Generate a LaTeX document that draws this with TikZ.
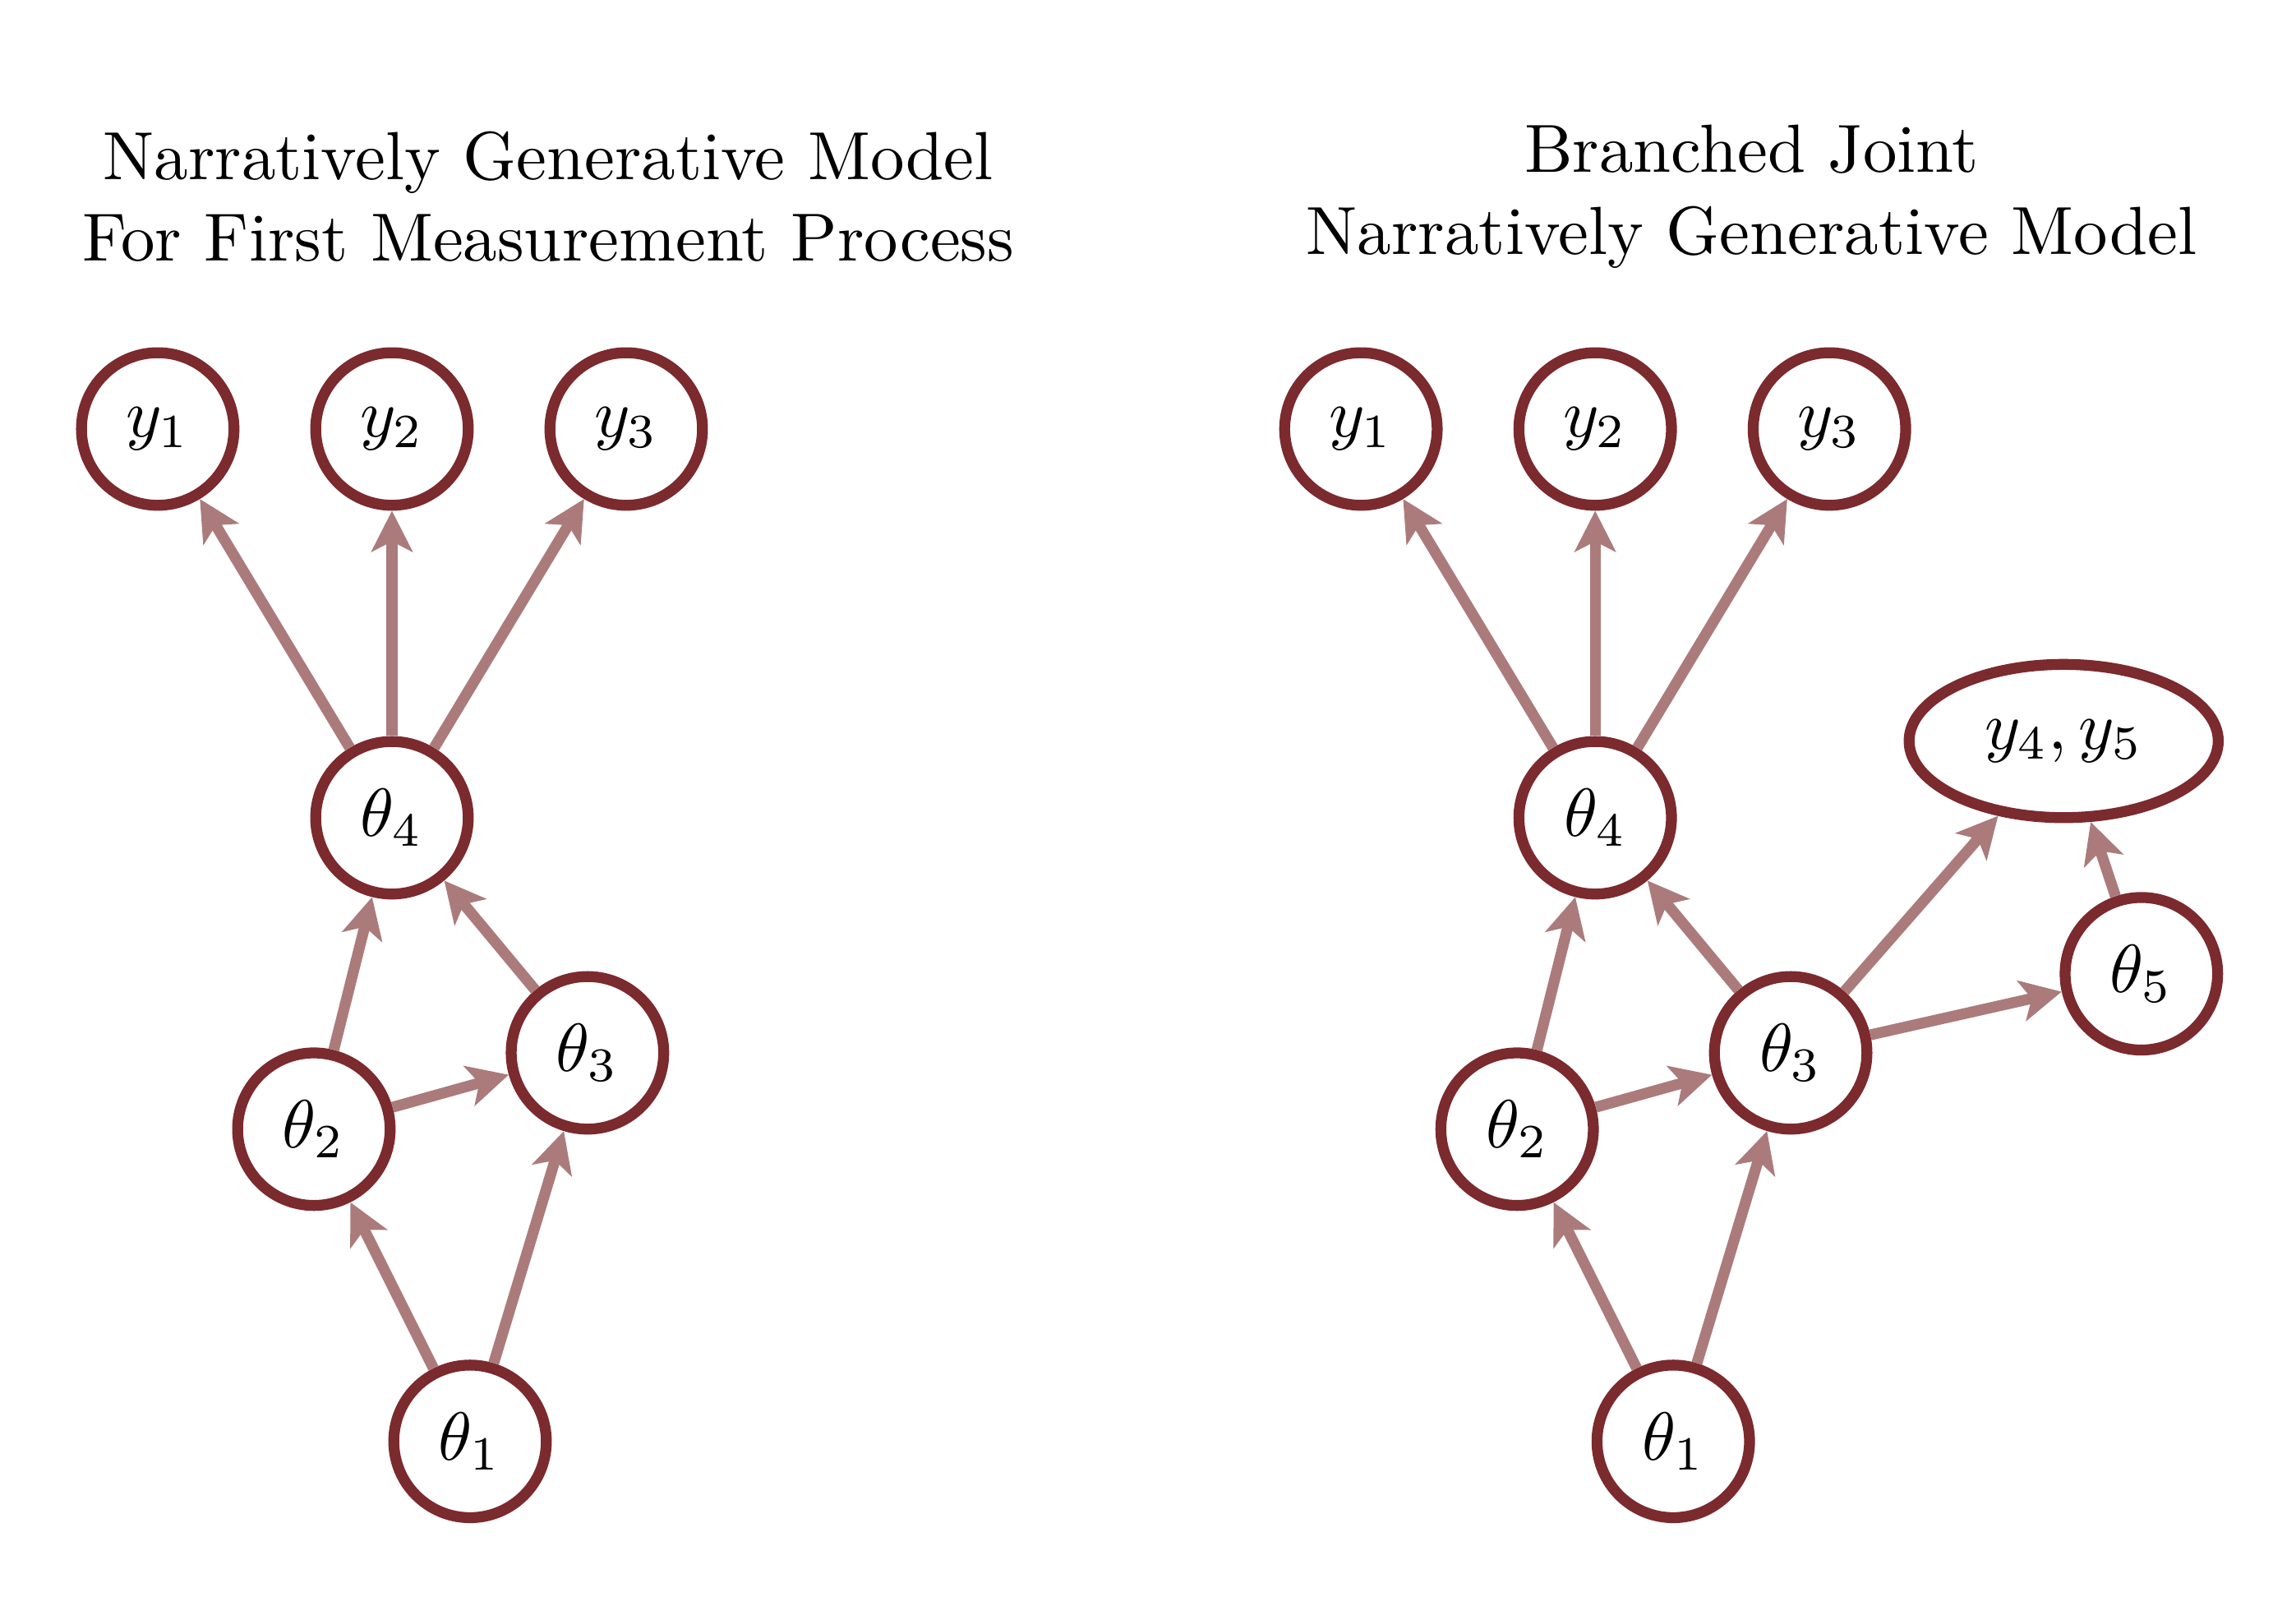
\documentclass[tikz,border=0pt]{standalone}
\usepackage{xcolor}
\usepackage{amsmath}
\usepackage{tikz}
\usetikzlibrary{arrows.meta}
\usetikzlibrary{shapes.geometric}
\definecolor{modelred}{RGB}{123,42,46}
\definecolor{edgered}{RGB}{171,123,123}

\begin{document}
\begin{tikzpicture}[
  var/.style={circle, draw=modelred, line width=1.6pt, fill=white, minimum size=22.4pt, inner sep=0pt},
  joint/.style={ellipse, draw=modelred, line width=1.6pt, fill=white, minimum width=45.4pt, minimum height=22.5pt, inner sep=1pt},
  dep/.style={edgered, line width=1.6pt, ->, >={Stealth[length=6pt,width=6pt,inset=1.5pt]}}
]
\useasboundingbox (0,0) rectangle (11.85,8.24);

\node[align=center] (titleL) at (2.83,7.225) {Narratively Generative Model\\For First Measurement Process};
\node[align=center] (titleR) at (9.04,7.225) {Branched Joint\\Narratively Generative Model};

% same five-level skeleton in both panels
\foreach \p/\dx in {L/0, R/6.21} {
  \foreach \i in {1,2,3} {
    \node[var] (y\i\p) at ({\dx+0.814+1.209*(\i-1)},6.026) {$y_{\i}$};
  }
  \node[var] (t4\p) at (\dx+2.023,4.020) {$\theta_4$};
  \node[var] (t3\p) at (\dx+3.032,2.807) {$\theta_3$};
  \node[var] (t2\p) at (\dx+1.620,2.413) {$\theta_2$};
  \node[var] (t1\p) at (\dx+2.426,0.802) {$\theta_1$};
}

% extra branch on the right
\node[var] (t5R) at (11.052,3.215) {$\theta_5$};
\node[joint] (y45R) at (10.651,4.416) {$y_4, y_5$};

\foreach \p in {L,R} {
  \foreach \i in {1,2,3} {
    \draw[dep] (t4\p) -- (y\i\p);
  }
  \draw[dep] (t2\p) -- (t4\p);
  \draw[dep] (t3\p) -- (t4\p);
  \draw[dep] (t2\p) -- (t3\p);
  \draw[dep] (t1\p) -- (t2\p);
  \draw[dep] (t1\p) -- (t3\p);
}
\draw[dep] (t3R) -- (y45R);
\draw[dep] (t3R) -- (t5R);
\draw[dep] (t5R) -- (y45R);
\end{tikzpicture}
\end{document}
